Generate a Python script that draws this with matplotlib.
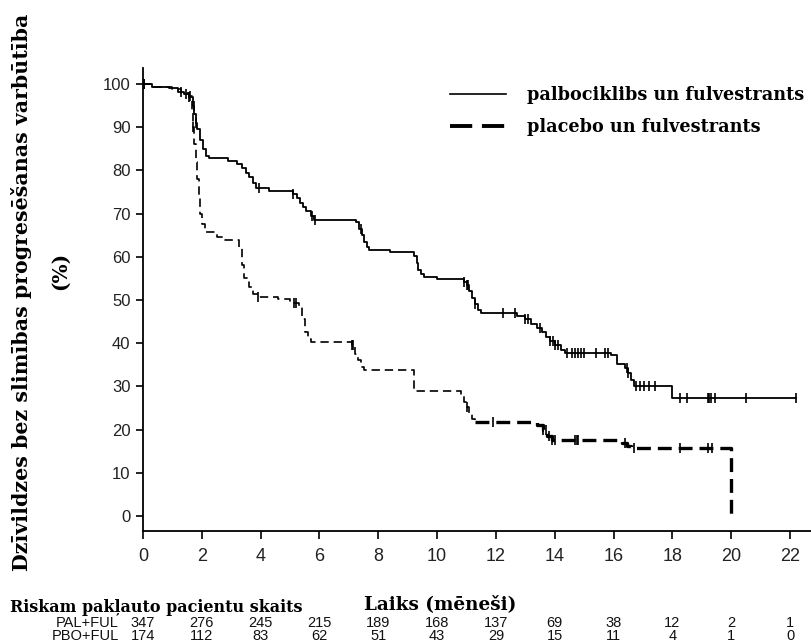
import numpy as np
import matplotlib
matplotlib.use("Agg")
import matplotlib.pyplot as plt
import matplotlib.transforms as mtransforms
from matplotlib.lines import Line2D
from matplotlib import font_manager

# ---------------- data ----------------
pal_t = [0, 0.3, 0.9, 1.2, 1.4, 1.55, 1.7, 1.75, 1.8, 1.85, 1.95, 2.05, 2.15, 2.25,
         2.9, 3.2, 3.35, 3.5, 3.6, 3.75, 3.85, 4.3, 5.1, 5.25, 5.35, 5.45, 5.55, 5.7,
         5.8, 7.25, 7.35, 7.45, 7.5, 7.6, 7.7, 8.4, 9.2, 9.3, 9.35, 9.45, 9.55, 10.0,
         10.9, 11.0, 11.1, 11.2, 11.3, 11.4, 11.5, 12.7, 13.0, 13.2, 13.4, 13.55,
         13.7, 13.85, 14.0, 14.2, 14.35, 15.9, 16.1, 16.4, 16.5, 16.6, 16.7, 18.0, 22.2]
pal_s = [100, 99.4, 99.0, 98.2, 97.6, 97.0, 95, 93, 91, 89.5, 87, 85, 83.3, 82.8,
         82.2, 81.5, 80.5, 79.5, 78.5, 77, 76, 75.3, 74.6, 73.5, 72.5, 71.5, 70.5, 69.5,
         68.6, 68.0, 66.5, 65, 63.5, 62.2, 61.5, 61.0, 60.3, 58.5, 57, 56, 55.3, 54.8,
         54.2, 53.4, 52, 50.5, 49, 47.6, 47.0, 46.3, 45.5, 44.5, 43.5, 42.5,
         41.5, 40.5, 39.5, 38.5, 37.8, 37.2, 35.2, 34.2, 33, 31.5, 30.2, 27.3, 27.3]
pal_cens = [0.05, 1.3, 1.45, 1.55, 1.72, 1.8, 3.95, 5.1, 5.75, 5.85, 7.4, 10.9, 11.0,
            11.05, 11.3, 12.25, 12.65, 13.0, 13.1, 13.5, 13.85, 13.95, 14.0, 14.1,
            14.4, 14.6, 14.7, 14.8, 14.9, 15.0, 15.4, 15.7, 15.8, 16.45, 16.5, 16.75,
            16.9, 17.05, 17.2, 17.4, 18.25, 18.5, 19.2, 19.25, 19.3, 19.45, 20.5, 22.2]

pbo_t = [0, 0.3, 1.0, 1.3, 1.55, 1.65, 1.7, 1.75, 1.8, 1.85, 1.9, 1.95, 2.0, 2.1, 2.5,
         2.8, 3.25, 3.35, 3.45, 3.6, 3.75, 3.9, 4.6, 5.0, 5.3, 5.4, 5.5, 5.6, 5.7, 7.1,
         7.2, 7.3, 7.4, 7.5, 9.2, 10.8, 10.9, 11.0, 11.1, 11.2, 11.3, 13.4, 13.6, 13.75,
         13.9, 16.3, 16.45, 16.6, 20.0]
pbo_s = [100, 99.4, 98.8, 98.0, 97.2, 94, 90, 86, 82, 78, 74, 70, 67.5, 65.8, 64.5,
         63.8, 62, 58, 55, 53, 51.5, 50.8, 50.2, 49.2, 48.3, 45.5, 42.5, 41, 40.3, 39.5,
         37.5, 36, 34.5, 33.8, 29.0, 28.0, 26.5, 25.3, 23.8, 22.5, 21.8, 21.0, 19.8, 18.5,
         17.6, 17.0, 16.3, 15.8, 0]
pbo_cens = [0.05, 1.6, 1.7, 3.9, 5.15, 5.2, 7.1, 7.15, 11.0, 11.9, 13.6, 13.7, 13.8,
            13.9, 14.0, 14.7, 14.75, 14.8, 16.4, 16.7, 18.25, 19.2, 19.35]

x_ticks = [0, 2, 4, 6, 8, 10, 12, 14, 16, 18, 20, 22]
y_ticks = [0, 10, 20, 30, 40, 50, 60, 70, 80, 90, 100]
risk_pal = [347, 276, 245, 215, 189, 168, 137, 69, 38, 12, 2, 1]
risk_pbo = [174, 112, 83, 62, 51, 43, 29, 15, 11, 4, 1, 0]
risk_labels = ["PAL+FUL", "PBO+FUL"]
series_names = ["palbociklibs un fulvestrants", "placebo un fulvestrants"]

# ---------------- fonts ----------------
plt.rcParams['lines.scale_dashes'] = False
available = {f.name for f in font_manager.fontManager.ttflist}
narrow = 'Liberation Sans Narrow' if 'Liberation Sans Narrow' in available else 'Liberation Sans'
SERIF = 'DejaVu Serif'

W, H = 811, 643
fig = plt.figure(figsize=(W / 100, H / 100), dpi=100)
ax = fig.add_axes([143 / W, 1 - 531 / H, 1 - 143 / W, (531 - 68) / H])


def step_val(ts, ss, t):
    ts = np.asarray(ts); ss = np.asarray(ss)
    idx = np.searchsorted(ts, t, side='right') - 1
    return ss[np.clip(idx, 0, len(ss) - 1)]


# PAL curve
ax.plot(pal_t, pal_s, drawstyle='steps-post', color='black', lw=1.3)
ax.plot(pal_cens, step_val(pal_t, pal_s, np.array(pal_cens)), ls='none', marker='|',
        ms=7, mew=1.2, color='black')

# PBO curve: thinner dashes early, heavier later
pt = np.array(pbo_t); ps = np.array(pbo_s)
split = 11.3
m1 = pt <= split
m2 = pt >= split
ax.plot(pt[m1], ps[m1], drawstyle='steps-post', color='black', lw=1.2,
        dashes=(6, 3.5))
ax.plot(pt[m2], ps[m2], drawstyle='steps-post', color='black', lw=2.4,
        dashes=(10, 5))
ax.plot(pbo_cens, step_val(pbo_t, pbo_s, np.array(pbo_cens)), ls='none', marker='|',
        ms=7, mew=1.2, color='black')

ax.set_xlim(0, (W - 143) / 29.41)
ax.set_ylim(-15 / 4.32, 100 + 16 / 4.32)
ax.set_xticks(x_ticks)
ax.set_yticks(y_ticks)
ax.spines['top'].set_visible(False)
ax.spines['right'].set_visible(False)
for s in ['left', 'bottom']:
    ax.spines[s].set_linewidth(1.3)
ax.tick_params(axis='x', direction='out', length=6, width=1.2, pad=6)
ax.tick_params(axis='y', direction='out', length=5, width=1.2, pad=4)
for lab in ax.get_xticklabels():
    lab.set_fontfamily(narrow); lab.set_fontsize(13); lab.set_color('#222222')
for lab in ax.get_yticklabels():
    lab.set_fontfamily('Liberation Sans'); lab.set_fontsize(12); lab.set_color('#222222')

# legend
handles = [Line2D([], [], color='black', lw=1.2),
           Line2D([], [], color='black', lw=2.8, dashes=(16, 7))]
leg = ax.legend(handles, series_names, loc='upper left',
                bbox_to_anchor=(450 / W, 1 - 86 / H), bbox_transform=fig.transFigure,
                frameon=False, borderpad=0, borderaxespad=0, handlelength=3.15,
                handletextpad=1.2, labelspacing=0.78,
                prop={'family': SERIF, 'weight': 'bold', 'size': 12.7})

# axis labels
fig.text(22 / W, 1 - 292 / H, "Dzīvildzes bez slimības progresēšanas varbūtība",
         rotation=90, ha='center', va='center', family=SERIF, weight='bold', fontsize=14.8)
fig.text(60 / W, 1 - 271 / H, "(%)", rotation=90, ha='center', va='center',
         family=SERIF, weight='bold', fontsize=14.5)
fig.text(440 / W, 1 - 604 / H, "Laiks (mēneši)", ha='center', va='center',
         family=SERIF, weight='bold', fontsize=13.2)
fig.text(10 / W, 1 - 607 / H, "Riskam pakļauto pacientu skaits", ha='left', va='center',
         family=SERIF, weight='bold', fontsize=11.5)

# risk table
tbl_tr = mtransforms.blended_transform_factory(ax.transData, fig.transFigure)
for row, (lab, vals) in enumerate(zip(risk_labels, [risk_pal, risk_pbo])):
    ypix = 623 + row * 13
    fig.text(119 / W, 1 - ypix / H, lab, ha='right', va='center', family=narrow,
             fontsize=10.5, color='#111111')
    for xt, v in zip(x_ticks, vals):
        ax.text(xt, 1 - ypix / H, str(v), transform=tbl_tr,
                ha='center', va='center', family=narrow, fontsize=10.5, color='#111111')

fig.savefig('out.png', dpi=100)
